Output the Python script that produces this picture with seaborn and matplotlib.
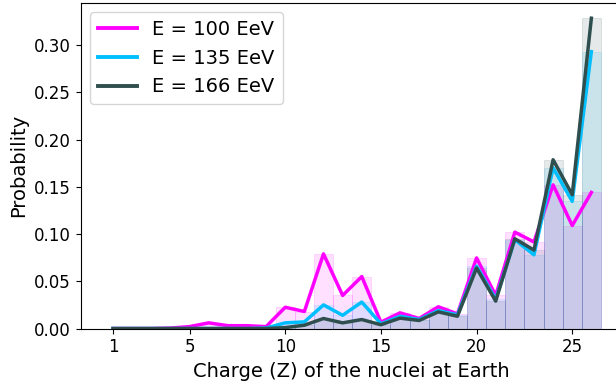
import numpy as np
import matplotlib
matplotlib.use("Agg")
import matplotlib.pyplot as plt
import seaborn as sns
from matplotlib.colors import to_rgba

# charge of the nuclei arriving at Earth
charges = list(range(1, 27))

labels = ["E = 100 EeV", "E = 135 EeV", "E = 166 EeV"]
colors = ["#ff00ff", "#00bfff", "#2f4f4f"]

p_100 = [0.0, 0.0, 0.0, 0.0005, 0.002, 0.006, 0.003, 0.003, 0.002, 0.0225,
         0.018, 0.079, 0.035, 0.055, 0.0067, 0.0166, 0.0106, 0.023, 0.0155, 0.0747,
         0.035, 0.102, 0.0916, 0.152, 0.109, 0.144]
p_135 = [0.0, 0.0, 0.0, 0.0, 0.0, 0.0, 0.0, 0.0, 0.0005, 0.006,
         0.007, 0.025, 0.014, 0.028, 0.005, 0.013, 0.0095, 0.019, 0.0145, 0.066,
         0.031, 0.094, 0.078, 0.170, 0.1346, 0.293]
p_166 = [0.0, 0.0, 0.0, 0.0, 0.0, 0.0, 0.0, 0.0, 0.0, 0.001,
         0.0035, 0.0106, 0.006, 0.0095, 0.004, 0.011, 0.0085, 0.0176, 0.013, 0.064,
         0.029, 0.095, 0.083, 0.1786, 0.1416, 0.3284]

series = [p_100, p_135, p_166]

fig = plt.figure(figsize=(6.16, 3.82), dpi=100)
# axes run a bit past the right edge, like the cropped original
ax = fig.add_axes([0.1307, 0.140, 0.879, 0.8534])

handles = []
for probs, col, lab in zip(series, colors, labels):
    sns.histplot(x=charges, weights=probs, discrete=True, ax=ax,
                 color=col, alpha=0.12, edgecolor=to_rgba(col, 0.15),
                 linewidth=0.6)
    sns.lineplot(x=charges, y=probs, ax=ax, color=col, linewidth=2.5)
    handles.append(plt.Line2D([], [], color=col, linewidth=2.8, label=lab))

ax.set_xlim(-0.70, 27.6)
ax.set_ylim(0, 0.345)
ax.set_xticks([1, 5, 10, 15, 20, 25])
ax.set_yticks(np.arange(0, 0.31, 0.05))
ax.yaxis.set_major_formatter(matplotlib.ticker.FormatStrFormatter("%.2f"))
ax.tick_params(labelsize=12)
ax.set_xlabel("Charge (Z) of the nuclei at Earth", fontsize=14)
ax.set_ylabel("Probability", fontsize=14)
ax.legend(handles=handles, loc="upper left", fontsize=14, handlelength=2.0)

fig.savefig("out.png", dpi=100)
